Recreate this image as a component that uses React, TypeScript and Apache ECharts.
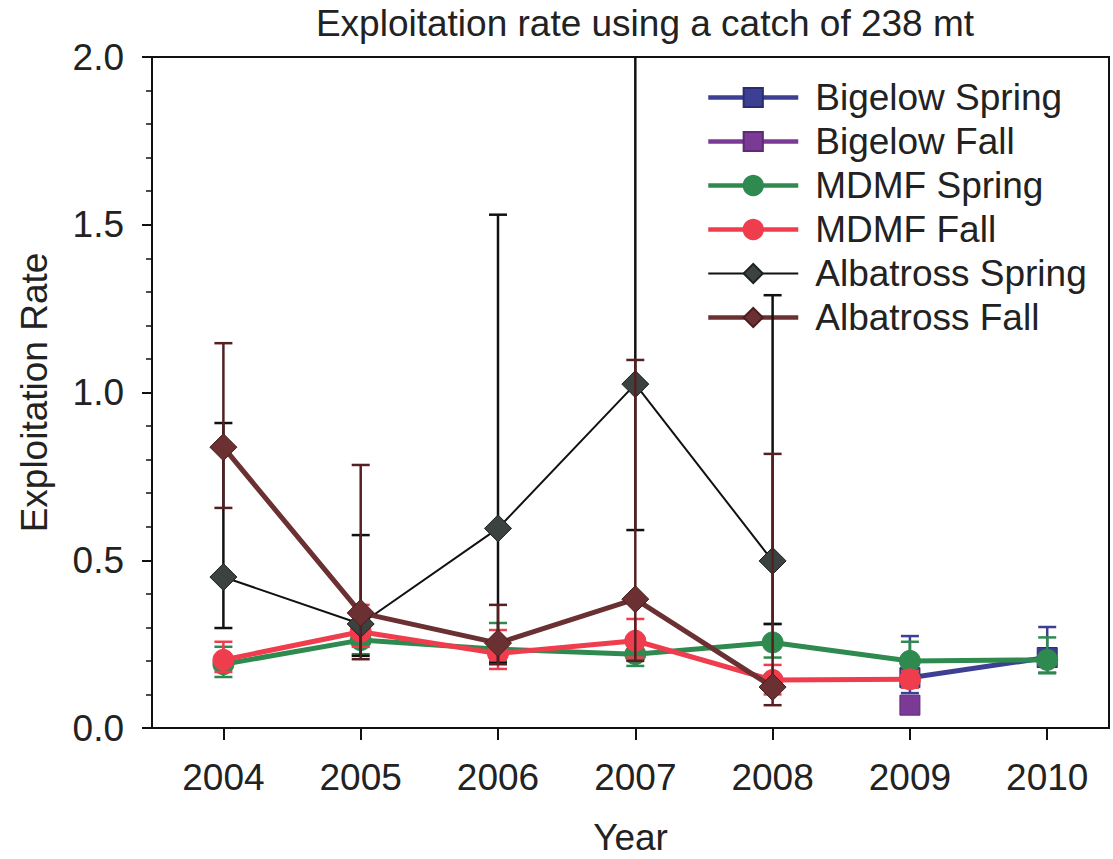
import React, { useEffect, useRef } from "react";
import * as echarts from "echarts";

// Survey years on the x axis
const years = [2004, 2005, 2006, 2007, 2008, 2009, 2010];
const yTicks = [0, 0.5, 1.0, 1.5, 2.0];

// Point estimates of exploitation rate (null = no survey that year)
const bigelowSpring = [null, null, null, null, null, 0.15, 0.21];
const bigelowFall = [null, null, null, null, null, 0.068, null];
const mdmfSpring = [0.19, 0.262, 0.235, 0.22, 0.255, 0.2, 0.203];
const mdmfFall = [0.203, 0.287, 0.222, 0.26, 0.143, 0.145, null];
const albatrossSpring = [0.45, 0.31, 0.595, 1.025, 0.498, null, null];
const albatrossFall = [0.837, 0.343, 0.253, 0.384, 0.122, null, null];

// Error-bar bounds [lower, upper] per year
const bigelowSpringCI = [null, null, null, null, null, [0.104, 0.274], [0.165, 0.301]];
const bigelowFallCI = [null, null, null, null, null, [0.05, 0.09], null];
const mdmfSpringCI = [[0.152, 0.242], [0.22, 0.3], [0.2, 0.313], [0.185, 0.25], [0.21, 0.31], [0.165, 0.257], [0.163, 0.27]];
const mdmfFallCI = [[0.167, 0.257], [0.242, 0.367], [0.176, 0.292], [0.21, 0.325], [0.1, 0.188], [0.12, 0.17], null];
const albatrossSpringCI = [[0.298, 0.909], [0.215, 0.575], [0.194, 1.53], [0.59, 2.4], [0.31, 1.29], null, null];
const albatrossFallCI = [[0.656, 1.147], [0.205, 0.784], [0.19, 0.367], [0.2, 1.097], [0.068, 0.817], null, null];

const FONT = "'Liberation Sans', Arial, sans-serif";
const TEXT_COLOR = "#222";

type SeriesDef = {
  name: string;
  values: (number | null)[];
  ci: (number[] | null)[];
  symbol: string;
  symbolSize: number;
  lineColor: string;
  markerColor: string;
  markerBorder: string;
  lineWidth: number;
  barColor: string;
};

const defs: SeriesDef[] = [
  { name: "Bigelow Spring", values: bigelowSpring, ci: bigelowSpringCI, symbol: "rect", symbolSize: 20, lineColor: "#3c3f92", markerColor: "#3c3f92", markerBorder: "#2a2c70", lineWidth: 5, barColor: "#3c3f92" },
  { name: "Bigelow Fall", values: bigelowFall, ci: bigelowFallCI, symbol: "rect", symbolSize: 20, lineColor: "#7b3a96", markerColor: "#7b3a96", markerBorder: "#5e2a75", lineWidth: 5, barColor: "#7b3a96" },
  { name: "MDMF Spring", values: mdmfSpring, ci: mdmfSpringCI, symbol: "circle", symbolSize: 21, lineColor: "#2f8a50", markerColor: "#2f8a50", markerBorder: "#2f8a50", lineWidth: 5, barColor: "#2f8a50" },
  { name: "MDMF Fall", values: mdmfFall, ci: mdmfFallCI, symbol: "circle", symbolSize: 21, lineColor: "#ef3d4e", markerColor: "#ef3d4e", markerBorder: "#ef3d4e", lineWidth: 5, barColor: "#ef3d4e" },
  { name: "Albatross Spring", values: albatrossSpring, ci: albatrossSpringCI, symbol: "diamond", symbolSize: 27, lineColor: "#111111", markerColor: "#3b423f", markerBorder: "#1d2220", lineWidth: 2, barColor: "#111111" },
  { name: "Albatross Fall", values: albatrossFall, ci: albatrossFallCI, symbol: "diamond", symbolSize: 27, lineColor: "#6b3031", markerColor: "#6b3031", markerBorder: "#4a1e1f", lineWidth: 5, barColor: "#561f22" },
];

function errorBarSeries(d: SeriesDef, z: number) {
  const data = years
    .map((y, i) => (d.ci[i] ? [y, d.ci[i]![0], d.ci[i]![1]] : null))
    .filter((v) => v !== null);
  return {
    type: "custom",
    name: d.name + " CI",
    z,
    data,
    renderItem: (params: any, api: any) => {
      const x = api.value(0);
      const lo = api.coord([x, api.value(1)]);
      const hi = api.coord([x, api.value(2)]);
      const top = params.coordSys.y;
      const hw = 9;
      const style = { stroke: d.barColor, lineWidth: 2.5 };
      // bars that run past the top of the plot are cut at the frame, without a cap
      const hiY = Math.max(hi[1], top);
      const children: any[] = [
        { type: "line", shape: { x1: lo[0], y1: lo[1], x2: lo[0], y2: hiY }, style },
        { type: "line", shape: { x1: lo[0] - hw, y1: lo[1], x2: lo[0] + hw, y2: lo[1] }, style },
      ];
      if (hi[1] >= top) {
        children.push({ type: "line", shape: { x1: hi[0] - hw, y1: hi[1], x2: hi[0] + hw, y2: hi[1] }, style });
      }
      return { type: "group", children };
    },
  };
}

function lineSeries(d: SeriesDef, z: number) {
  return {
    type: "line",
    name: d.name,
    z,
    data: years.map((y, i) => [y, d.values[i]]),
    connectNulls: false,
    symbol: d.symbol,
    symbolSize: d.symbolSize,
    showAllSymbol: true,
    lineStyle: { color: d.lineColor, width: d.lineWidth },
    itemStyle: { color: d.markerColor, borderColor: d.markerBorder, borderWidth: 1 },
    emphasis: { disabled: true },
  };
}

export default function App() {
  const ref = useRef<HTMLDivElement>(null);

  useEffect(() => {
    if (!ref.current) return;
    const chart = echarts.init(ref.current, undefined, { renderer: "svg" });

    const series: any[] = [];
    defs.forEach((d, i) => {
      series.push(errorBarSeries(d, 2 + i * 2));
      series.push(lineSeries(d, 3 + i * 2));
    });

    chart.setOption({
      animation: false,
      backgroundColor: "#ffffff",
      textStyle: { fontFamily: FONT },
      title: {
        text: "Exploitation rate using a catch of 238 mt",
        left: 640,
        top: 0,
        textAlign: "center",
        textStyle: { fontSize: 37, fontWeight: "normal", color: TEXT_COLOR, fontFamily: FONT },
      },
      legend: {
        data: defs.map((d) => ({
          name: d.name,
          lineStyle: { width: d.lineWidth === 2 ? 2 : 4.5, color: d.lineColor },
        })),
        orient: "vertical",
        left: 701,
        top: 74,
        itemWidth: 90,
        itemHeight: 24,
        itemGap: 7,
        textStyle: { fontSize: 37, color: TEXT_COLOR, fontFamily: FONT, padding: [0, 0, 0, 12], lineHeight: 37 },
        selectedMode: false,
      },
      grid: {
        left: 152,
        right: 4,
        top: 57,
        bottom: 131,
        outerBoundsMode: "none",
        containLabel: false,
        show: true,
        borderColor: "#111",
        borderWidth: 2,
        backgroundColor: "transparent",
      },
      xAxis: {
        type: "value",
        min: 2003.48,
        max: 2010.45,
        name: "Year",
        nameLocation: "middle",
        nameGap: 91,
        nameTextStyle: { fontSize: 37, lineHeight: 37, color: TEXT_COLOR, fontFamily: FONT },
        axisLine: { show: true, lineStyle: { color: "#111", width: 2 } },
        axisTick: { show: true, length: 12, lineStyle: { color: "#111", width: 2 }, customValues: years },
        axisLabel: { fontSize: 37, color: TEXT_COLOR, margin: 31, fontFamily: FONT, customValues: years, formatter: (v: number) => String(v) },
        splitLine: { show: false },
      },
      yAxis: {
        type: "value",
        min: 0,
        max: 2,
        interval: 0.5,
        name: "Exploitation Rate",
        nameLocation: "middle",
        nameGap: 99,
        nameTextStyle: { fontSize: 37, color: TEXT_COLOR, fontFamily: FONT },
        axisLine: { show: true, lineStyle: { color: "#111", width: 2 } },
        axisTick: { show: true, length: 10, lineStyle: { color: "#111", width: 2 }, customValues: yTicks },
        minorTick: { show: true, splitNumber: 5, length: 6, lineStyle: { color: "#111", width: 1.5 } },
        axisLabel: { fontSize: 37, color: TEXT_COLOR, margin: 28, fontFamily: FONT, formatter: (v: number) => v.toFixed(1) },
        splitLine: { show: false },
      },
      series,
    });

    return () => chart.dispose();
  }, []);

  return (
    <div
      ref={ref}
      style={{ position: "absolute", left: 0, top: 0, width: 1113, height: 859 }}
    />
  );
}
